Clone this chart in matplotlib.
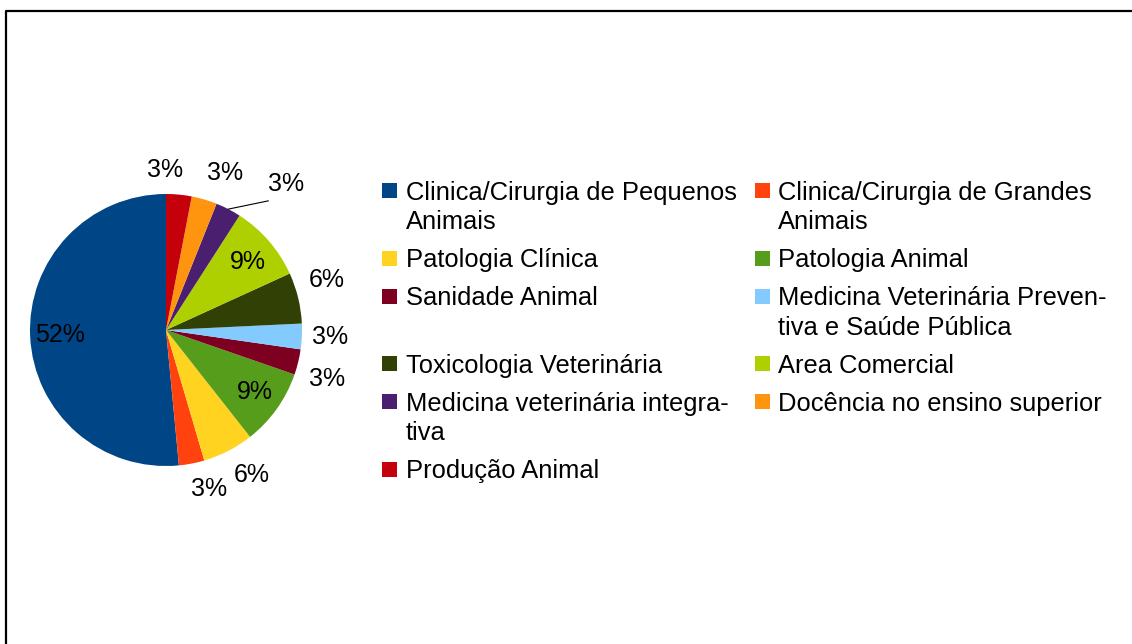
import matplotlib
matplotlib.use("Agg")
import matplotlib.pyplot as plt
import numpy as np
from matplotlib.patches import Rectangle
from matplotlib.lines import Line2D

plt.rcParams['font.family'] = ['Liberation Sans', 'DejaVu Sans']

# dados (respostas por área)
areas = ["Clinica/Cirurgia de Pequenos\nAnimais",
         "Clinica/Cirurgia de Grandes\nAnimais",
         "Patologia Clínica",
         "Patologia Animal",
         "Sanidade Animal",
         "Medicina Veterinária Preven-\ntiva e Saúde Pública",
         "Toxicologia Veterinária",
         "Area Comercial",
         "Medicina veterinária integra-\ntiva",
         "Docência no ensino superior",
         "Produção Animal"]
respostas = [17, 1, 2, 3, 1, 1, 2, 3, 1, 1, 1]
cores = ["#004586", "#ff420e", "#ffd320", "#579d1c", "#7e0021", "#83caff",
         "#314004", "#aecf00", "#4b1f6f", "#ff950e", "#c5000b"]

# posição dos rótulos: deslocamento angular (graus) e distância (em raios)
desloc = [0, 4.4, 3.1, 0.6, -3.3, 0.3, 3.7, -1.2, -12.1, -4.3, 5.9]
dist = [0.78, 1.21, 1.24, 0.80, 1.24, 1.21, 1.24, 0.78, 1.39, 1.23, 1.18]

W, H = 1132, 644
fig = plt.figure(figsize=(W / 100, H / 100), dpi=100)

cx, cy, R = 166, 330, 136
ax = fig.add_axes([(cx - R) / W, (H - cy - R) / H, 2 * R / W, 2 * R / H])
wedges, _ = ax.pie(respostas, colors=cores, startangle=90, counterclock=True,
                   radius=1, wedgeprops=dict(linewidth=0))
ax.set_xlim(-1, 1)
ax.set_ylim(-1, 1)
ax.axis('off')

total = sum(respostas)
for i, w in enumerate(wedges):
    meio = (w.theta1 + w.theta2) / 2
    ang = np.deg2rad(meio + desloc[i])
    x, y = dist[i] * np.cos(ang), dist[i] * np.sin(ang)
    pct = round(respostas[i] / total * 100)
    ax.text(x, y, f"{pct}%", ha='center', va='center', fontsize=18, color='black')
    if i == 8:
        m = np.deg2rad(meio)
        ax.plot([np.cos(m), x - 0.13], [np.sin(m), y - 0.125], color='black',
                lw=0.8, clip_on=False)

# legenda desenhada à mão (duas colunas, linhas alinhadas)
col_q = [382, 755]
col_t = [406, 778]
y0 = 190.5
passo = 29.5
fs = 18.4
em = fs * 100 / 72
linhas = [areas[k:k + 2] for k in range(0, len(areas), 2)]
y = y0
idx = 0
for linha in linhas:
    nmax = 1
    for c, lab in enumerate(linha):
        partes = lab.split("\n")
        nmax = max(nmax, len(partes))
        fig.patches.append(Rectangle(((col_q[c]) / W, (H - y - 7.5) / H), 15 / W, 15 / H,
                                     transform=fig.transFigure, facecolor=cores[idx],
                                     edgecolor='none'))
        for j, p in enumerate(partes):
            yb = y + j * passo + 0.358 * em
            fig.text(col_t[c] / W, (H - yb) / H, p, fontsize=fs, ha='left',
                     va='baseline', color='black')
        idx += 1
    y += (nmax - 1) * passo + 38

# moldura
fig.add_artist(Line2D([6 / W, 6 / W, 1.0], [0.0, (H - 11) / H, (H - 11) / H],
                      transform=fig.transFigure, color='black', lw=1.6))

fig.savefig("out.png", dpi=100)
